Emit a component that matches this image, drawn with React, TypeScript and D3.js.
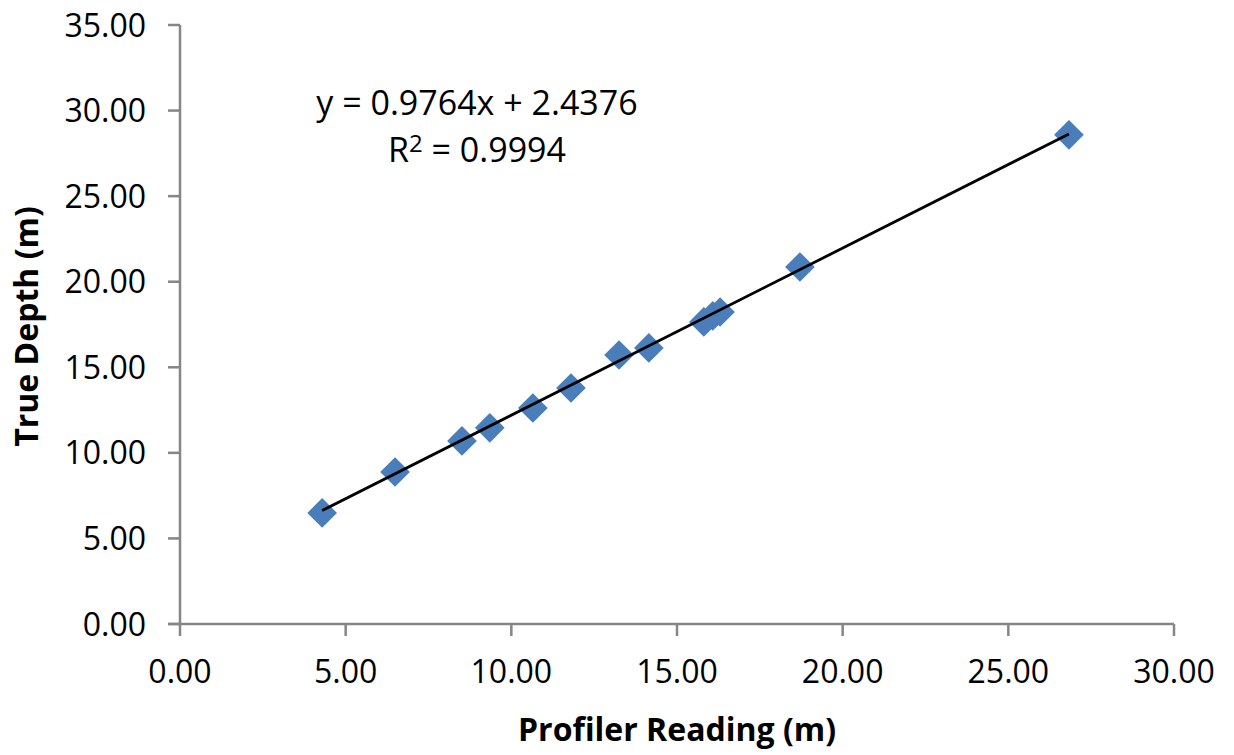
import React from "react";
import * as d3 from "d3";

const profilerReading = [4.29, 6.49, 8.51, 9.35, 10.65, 11.8, 13.25, 14.15, 15.81, 16.08, 16.3, 18.71, 26.83];
const trueDepth = [6.49, 8.88, 10.7, 11.46, 12.62, 13.79, 15.72, 16.13, 17.65, 18.0, 18.23, 20.86, 28.58];
const xTicks = [0, 5, 10, 15, 20, 25, 30];
const yTicks = [0, 5, 10, 15, 20, 25, 30, 35];
const slope = 0.9764;
const intercept = 2.4376;
const equationLabel = "y = 0.9764x + 2.4376";
const r2Value = "0.9994";
const xTitle = "Profiler Reading (m)";
const yTitle = "True Depth (m)";

export default function App() {
  const W = 1234, H = 755;
  const x = d3.scaleLinear().domain([0, 30]).range([180, 1174]);
  const y = d3.scaleLinear().domain([0, 35]).range([624, 25]);
  const font = "'Open Sans', 'Noto Sans', sans-serif";
  const axisColor = "#868686";
  const xMin = d3.min(profilerReading)!;
  const xMax = d3.max(profilerReading)!;
  const line = d3.line<number>().x(d => x(d)).y(d => y(slope * d + intercept));
  const diamond = d3.symbol().type(d3.symbolSquare).size(440)();
  return (
    <svg width={W} height={H} style={{ position: "absolute", left: 0, top: 0 }}>
      <rect width={W} height={H} fill="#fff" />
      <line x1={x(0)} x2={x(0)} y1={y(35)} y2={y(0)} stroke={axisColor} strokeWidth={2.5} />
      <line x1={x(0) - 12} x2={x(30)} y1={y(0)} y2={y(0)} stroke={axisColor} strokeWidth={2.5} />
      {yTicks.map(t => (
        <g key={"y" + t}>
          <line x1={x(0) - 12} x2={x(0)} y1={y(t)} y2={y(t)} stroke={axisColor} strokeWidth={2.5} />
          <text x={146} y={y(t)} dy="0.36em" textAnchor="end" fontFamily={font} fontSize={32} fill="#000">
            {t.toFixed(2)}
          </text>
        </g>
      ))}
      {xTicks.map(t => (
        <g key={"x" + t}>
          <line x1={x(t)} x2={x(t)} y1={y(0)} y2={y(0) + 12} stroke={axisColor} strokeWidth={2.5} />
          <text x={x(t)} y={y(0) + 59} textAnchor="middle" fontFamily={font} fontSize={32} fill="#000">
            {t.toFixed(2)}
          </text>
        </g>
      ))}
      {profilerReading.map((v, i) => (
        <path key={i} d={diamond} transform={`translate(${x(v)},${y(trueDepth[i])}) rotate(45)`} fill="#4a7ebb" />
      ))}
      <path d={line([xMin, xMax])!} stroke="#000" strokeWidth={2.8} fill="none" />
      <text x={477} y={115} textAnchor="middle" fontFamily={font} fontSize={34} fill="#000">{equationLabel}</text>
      <text x={477} y={162} textAnchor="middle" fontFamily={font} fontSize={34} fill="#000">
        R<tspan dy={-10} fontSize={24}>2</tspan><tspan dy={10}> = {r2Value}</tspan>
      </text>
      <text x={677} y={741} textAnchor="middle" fontFamily={font} fontSize={32} fontWeight="bold" fill="#000">{xTitle}</text>
      <text transform={`translate(38,${y(17.5) + 2}) rotate(-90)`} textAnchor="middle" fontFamily={font} fontSize={32} fontWeight="bold" fill="#000">{yTitle}</text>
    </svg>
  );
}
